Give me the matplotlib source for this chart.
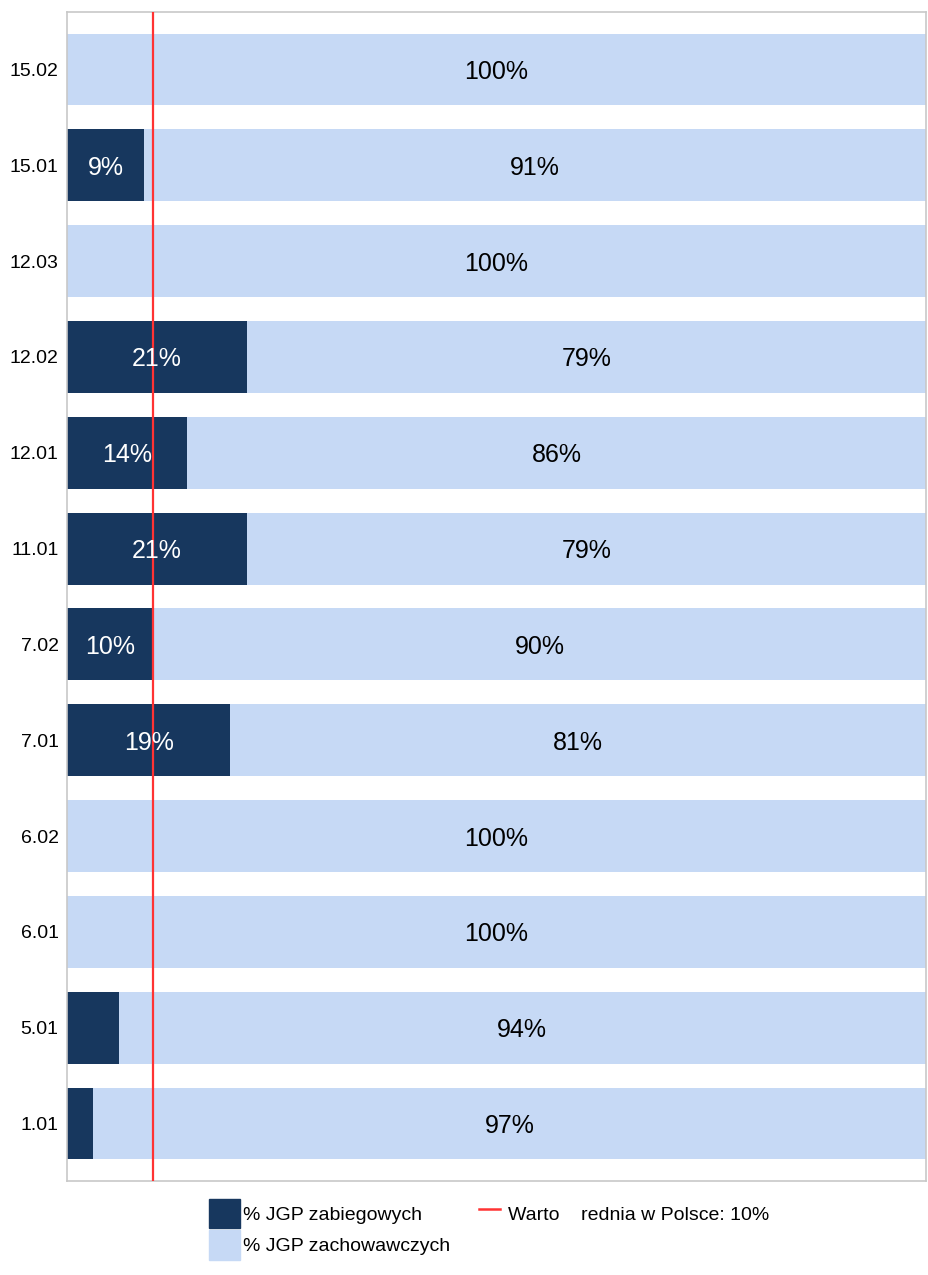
import matplotlib
matplotlib.use("Agg")
import matplotlib.pyplot as plt
from matplotlib.patches import Patch
from matplotlib.lines import Line2D

plt.rcParams['font.family'] = ['Liberation Sans', 'DejaVu Sans']

# data, bottom to top
categories = ['1.01', '5.01', '6.01', '6.02', '7.01', '7.02',
              '11.01', '12.01', '12.02', '12.03', '15.01', '15.02']
zabiegowe = [3, 6, 0, 0, 19, 10, 21, 14, 21, 0, 9, 0]
zachowawcze = [97, 94, 100, 100, 81, 90, 79, 86, 79, 100, 91, 100]
srednia_pl = 10

dark = '#17375e'
light = '#c6d9f5'
red = '#ff3333'

fig = plt.figure(figsize=(9.29, 12.75), dpi=100)
ax = fig.add_axes([0.0721, 0.0737, 0.9247, 0.9169])

pos = list(range(len(categories)))
ax.barh(pos, zabiegowe, height=0.75, color=dark, zorder=2)
ax.barh(pos, zachowawcze, left=zabiegowe, height=0.75, color=light, zorder=2)
ax.axvline(srednia_pl, color=red, lw=1.6, zorder=3)

for i, (a, b) in enumerate(zip(zabiegowe, zachowawcze)):
    if a >= 9:
        ax.text(a / 2, i, f'{a}%', ha='center', va='center_baseline',
                color='white', fontsize=18, zorder=4)
    ax.text(a + b / 2, i, f'{b}%', ha='center', va='center_baseline',
            color='black', fontsize=18, zorder=4)

ax.set_xlim(0, 100)
ax.set_ylim(-0.6, 11.6)
ax.set_yticks(pos)
ax.set_yticklabels(categories, fontsize=14)
ax.set_xticks([])
ax.tick_params(axis='y', length=0, pad=6)
for s in ax.spines.values():
    s.set_color('#c8c8c8')
    s.set_linewidth(1.2)

# legend: two patches in one column, the red line beside them
fig.legend([Patch(color=dark), Patch(color=light)],
           ['% JGP zabiegowych', '% JGP zachowawczych'],
           loc='upper left', bbox_to_anchor=(0.225, 0.0596),
           frameon=False, fontsize=14, handlelength=1.6,
           handleheight=1.95, handletextpad=0.15, labelspacing=0.1,
           borderpad=0, borderaxespad=0)
fig.legend([Line2D([], [], color=red, lw=1.8)],
           ['Warto    rednia w Polsce: 10%'],
           loc='upper left', bbox_to_anchor=(0.516, 0.0596),
           frameon=False, fontsize=14, handlelength=1.05,
           handleheight=1.95, handletextpad=0.4,
           borderpad=0, borderaxespad=0)

fig.savefig('out.png', dpi=100)
